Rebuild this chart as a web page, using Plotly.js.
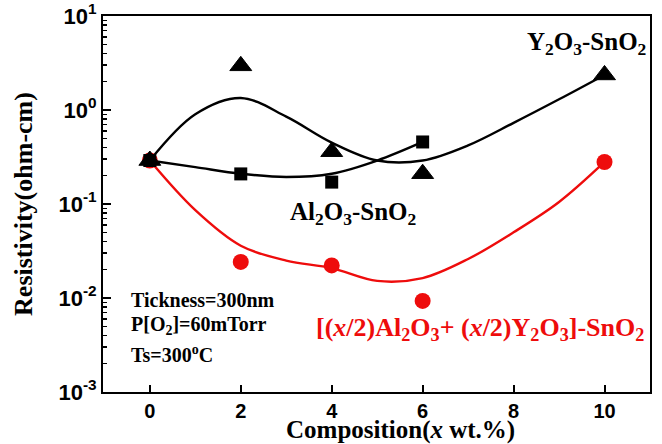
<!DOCTYPE html>
<html>
<head>
<meta charset="utf-8">
<script src="https://cdn.plot.ly/plotly-3.0.1.min.js"></script>
<style>
  html, body { margin: 0; padding: 0; background: #fff; }
  #chart { width: 662px; height: 444px; }
</style>
</head>
<body>
<div id="chart"></div>
<script>
// Measured resistivity (ohm-cm) versus dopant composition (wt.%)
const compY2O3 = [0, 2, 4, 6, 10];
const rhoY2O3 = [0.29, 2.95, 0.36, 0.21, 2.36];

const compAl2O3 = [0, 2, 4, 6];
const rhoAl2O3 = [0.29, 0.209, 0.171, 0.457];

const compMixed = [0, 2, 4, 6, 10];
const rhoMixed = [0.29, 0.0242, 0.0222, 0.0093, 0.28];

// Guide-to-the-eye fitted curves (knots of smooth trend lines)
const fitY2O3X = [0, 1, 2, 3, 4, 5, 6, 7, 8, 9, 10];
const fitY2O3Y = [0.29, 0.9, 1.34, 0.85, 0.45, 0.29, 0.29, 0.42, 0.73, 1.3, 2.36];

const fitAl2O3X = [0, 1, 2, 3, 4, 5, 6];
const fitAl2O3Y = [0.29, 0.247, 0.21, 0.194, 0.21, 0.29, 0.457];

const fitMixedX = [0, 1, 2, 3, 4, 5, 6, 7, 8, 9, 10];
const fitMixedY = [0.29, 0.086, 0.036, 0.025, 0.0208, 0.0152, 0.0163, 0.026, 0.05, 0.105, 0.28];

// Axis ticks
const xTicks = [0, 2, 4, 6, 8, 10];
const yTickVals = [0.001, 0.01, 0.1, 1, 10];
const yTickText = ['10<sup>-3</sup>', '10<sup>-2</sup>', '10<sup>-1</sup>', '10<sup>0</sup>', '10<sup>1</sup>'];

const RED = 'rgb(238,12,12)';
const BLACK = '#000';
const SERIF = 'Liberation Serif, Times New Roman, serif';
const SANS = 'Liberation Sans, Arial, sans-serif';

const traces = [
  { x: fitMixedX, y: fitMixedY, mode: 'lines', line: { color: RED, width: 2.4, shape: 'spline', smoothing: 1.0 }, hoverinfo: 'skip' },
  { x: fitAl2O3X, y: fitAl2O3Y, mode: 'lines', line: { color: BLACK, width: 2.4, shape: 'spline', smoothing: 1.0 }, hoverinfo: 'skip' },
  { x: fitY2O3X, y: fitY2O3Y, mode: 'lines', line: { color: BLACK, width: 2.4, shape: 'spline', smoothing: 1.0 }, hoverinfo: 'skip' },
  { x: compMixed, y: rhoMixed, mode: 'markers', marker: { symbol: 'circle', size: 16, color: RED } },
  { x: compY2O3, y: rhoY2O3, mode: 'markers', marker: { symbol: 'triangle-up', size: 19, color: BLACK, line: { color: BLACK, width: 1 } } },
  { x: compAl2O3, y: rhoAl2O3, mode: 'markers', marker: { symbol: 'square', size: 13, color: BLACK } }
];

const annotations = [
  { xref: 'paper', yref: 'paper', x: 0.543, y: -0.1, xanchor: 'center', yanchor: 'middle', showarrow: false,
    text: '<b>Composition(<i>x</i> wt.%)</b>', font: { family: SERIF, size: 25, color: BLACK } },
  { xref: 'paper', yref: 'paper', x: 0.997, y: 0.928, xanchor: 'right', yanchor: 'middle', showarrow: false,
    text: '<b>Y<sub>2</sub>O<sub>3</sub>-SnO<sub>2</sub></b>', font: { family: SERIF, size: 25, color: BLACK } },
  { xref: 'paper', yref: 'paper', x: 0.457, y: 0.476, xanchor: 'center', yanchor: 'middle', showarrow: false,
    text: '<b>Al<sub>2</sub>O<sub>3</sub>-SnO<sub>2</sub></b>', font: { family: SERIF, size: 25, color: BLACK } },
  { xref: 'paper', yref: 'paper', x: 0.689, y: 0.168, xanchor: 'center', yanchor: 'middle', showarrow: false,
    text: '<b>[(<i>x</i>/2)Al<sub>2</sub>O<sub>3</sub>+ (<i>x</i>/2)Y<sub>2</sub>O<sub>3</sub>]-SnO<sub>2</sub></b>',
    font: { family: SERIF, size: 26, color: RED } },
  { xref: 'paper', yref: 'paper', x: 0.0475, y: 0.245, xanchor: 'left', yanchor: 'middle', showarrow: false,
    text: '<b>Tickness=300nm</b>', font: { family: SERIF, size: 20, color: BLACK } },
  { xref: 'paper', yref: 'paper', x: 0.0475, y: 0.176, xanchor: 'left', yanchor: 'middle', showarrow: false,
    text: '<b>P[O<sub>2</sub>]=60mTorr</b>', font: { family: SERIF, size: 20, color: BLACK } },
  { xref: 'paper', yref: 'paper', x: 0.0475, y: 0.100, xanchor: 'left', yanchor: 'middle', showarrow: false,
    text: '<b>Ts=300<sup>o</sup>C</b>', font: { family: SERIF, size: 20, color: BLACK } }
];

const layout = {
  width: 662, height: 444,
  margin: { l: 103, r: 12, t: 16, b: 52 },
  paper_bgcolor: '#fff', plot_bgcolor: '#fff',
  showlegend: false,
  xaxis: {
    range: [-1.03, 11], tickvals: xTicks, ticks: 'inside', ticklen: 7, tickwidth: 2, tickcolor: BLACK,
    showline: true, linewidth: 2, linecolor: BLACK, mirror: true, showgrid: false, zeroline: false,
    tickfont: { family: SANS, size: 20, color: BLACK, weight: 'bold' }
  },
  yaxis: {
    type: 'log', range: [-3, 1], tickvals: yTickVals, ticktext: yTickText,
    ticks: 'inside', ticklen: 8, tickwidth: 2, tickcolor: BLACK,
    minor: { ticks: 'inside', ticklen: 4, tickwidth: 1.5, tickcolor: BLACK, dtick: 'D1' },
    showline: true, linewidth: 2, linecolor: BLACK, mirror: true, showgrid: false, zeroline: false,
    tickfont: { family: SANS, size: 22, color: BLACK, weight: 'bold' },
    title: { text: '<b>Resistivity(ohm-cm)</b>', font: { family: SERIF, size: 26, color: BLACK }, standoff: 18 }
  },
  annotations: annotations
};

Plotly.newPlot('chart', traces, layout, { staticPlot: true, displayModeBar: false });
</script>
</body>
</html>
